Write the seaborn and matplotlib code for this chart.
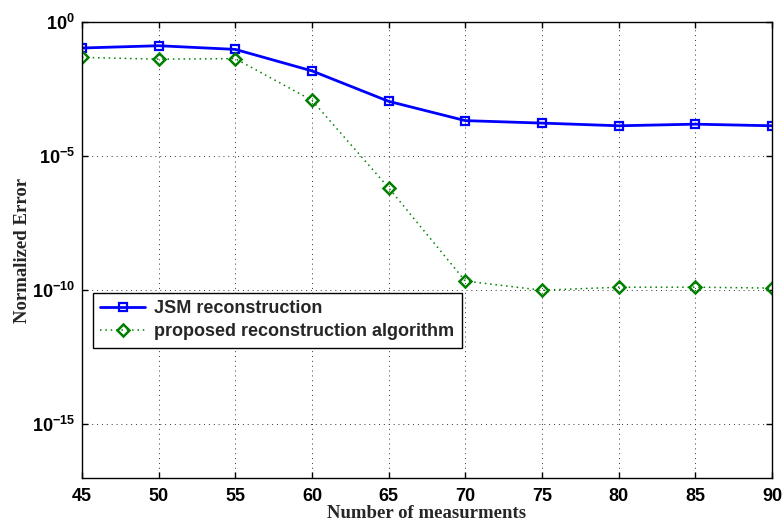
import matplotlib
matplotlib.use("Agg")
import matplotlib.pyplot as plt
import pandas as pd
import seaborn as sns

# values
measurements = [45, 50, 55, 60, 65, 70, 75, 80, 85, 90]
jsm_error = [1.07e-1, 1.3e-1, 9.5e-2, 1.5e-2, 1.1e-3, 2.1e-4, 1.7e-4, 1.35e-4, 1.55e-4, 1.35e-4]
proposed_error = [4.8e-2, 4.1e-2, 4.3e-2, 1.2e-3, 6.6e-7, 2.2e-10, 1.0e-10, 1.3e-10, 1.3e-10, 1.2e-10]
series_names = ["JSM reconstruction", "proposed reconstruction algorithm"]
ytick_values = [1e0, 1e-5, 1e-10, 1e-15]
ytick_labels = [r"$\mathbf{10^{0}}$", r"$\mathbf{10^{-5}}$", r"$\mathbf{10^{-10}}$", r"$\mathbf{10^{-15}}$"]

sns.set_theme(style="ticks")
plt.rcParams["font.family"] = ["Liberation Sans", "DejaVu Sans"]
plt.rcParams["mathtext.fontset"] = "custom"
plt.rcParams["mathtext.bf"] = "Liberation Sans:bold"
plt.rcParams["mathtext.rm"] = "Liberation Sans:bold"

df = pd.DataFrame({"m": measurements, "jsm": jsm_error, "prop": proposed_error})

fig = plt.figure(figsize=(7.83, 5.23), dpi=100)
ax = fig.add_axes([0.1047, 0.086, 0.8812, 0.872])

sns.lineplot(data=df, x="m", y="jsm", ax=ax, color="#0000ff", linewidth=2,
             marker="s", markersize=5.5, markerfacecolor="none", markeredgecolor="#0000ff",
             markeredgewidth=1.6, label=series_names[0])
sns.lineplot(data=df, x="m", y="prop", ax=ax, color="#008000", linewidth=1.1, linestyle=(0, (1, 2.5)),
             marker="D", markersize=6, markerfacecolor="none", markeredgecolor="#008000",
             markeredgewidth=1.8, label=series_names[1])

ax.set_yscale("log")
ax.set_xlim(45, 90)
ax.set_ylim(1e-17, 1e0)
ax.set_xticks(measurements)
ax.set_xticklabels([str(m) for m in measurements], fontsize=13, fontweight="bold")
ax.set_yticks(ytick_values)
ax.set_yticklabels(ytick_labels, fontsize=13)
ax.minorticks_off()
ax.tick_params(direction="in", length=4, width=1, top=True, right=True, colors="black")
ax.tick_params(axis="x", pad=7)
ax.tick_params(axis="y", pad=5)

ax.grid(True, linestyle=(0, (1, 4)), color="#333333", linewidth=0.7)
for s in ax.spines.values():
    s.set_color("black")
    s.set_linewidth(1)

ax.set_xlabel("Number of measurments", family=["Liberation Serif"], fontweight="bold",
              fontsize=13.5, labelpad=0)
ax.set_ylabel("Normalized Error", family=["Liberation Serif"], fontweight="bold",
              fontsize=13.5, labelpad=0.5)

leg = ax.legend(loc="upper left", bbox_to_anchor=(0.016, 0.406), borderaxespad=0,
                fancybox=False, edgecolor="black", framealpha=1,
                prop={"weight": "bold", "size": 13}, handlelength=2.5,
                borderpad=0.4, labelspacing=0.35, handletextpad=0.5)
leg.get_frame().set_linewidth(1)

plt.savefig("out.png", dpi=100)
plt.close()
